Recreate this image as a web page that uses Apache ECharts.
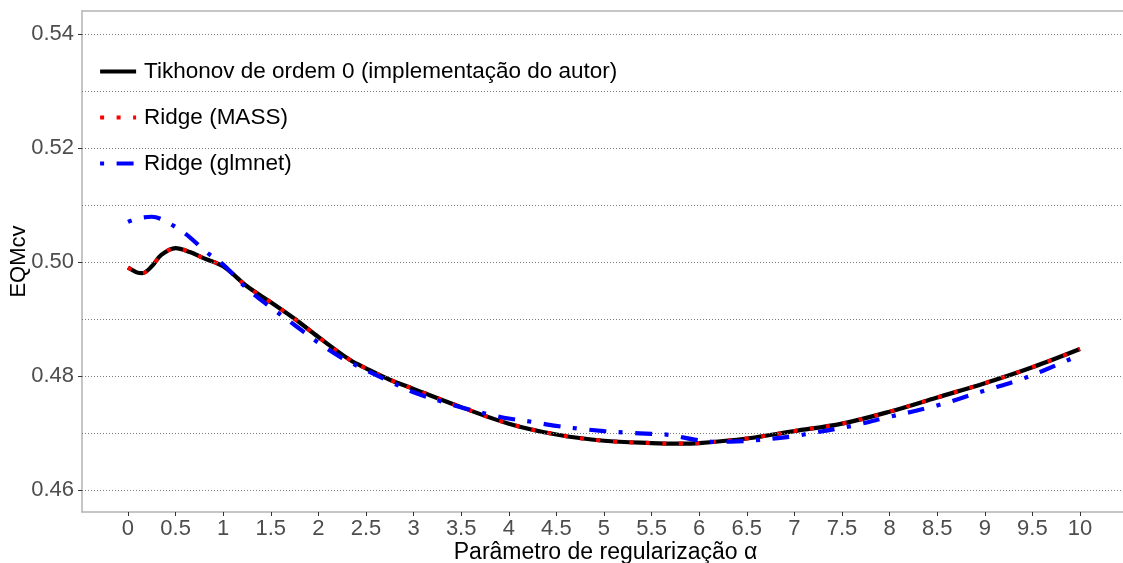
<!DOCTYPE html>
<html>
<head>
<meta charset="utf-8">
<title>EQMcv versus parâmetro de regularização</title>
<script src="https://cdn.jsdelivr.net/npm/echarts@6/dist/echarts.min.js"></script>
<style>
  html, body { margin: 0; padding: 0; background: #ffffff; overflow: hidden; }
  #chart { width: 1140px; height: 563px; }
</style>
</head>
<body>
<div id="chart"></div>
<script>
// Regularisation parameter values and cross-validated MSE per method
const alphaTik = [0, 0.1, 0.15, 0.25, 0.35, 0.5, 0.65, 0.8, 1.0, 1.25, 1.5, 1.75, 2.0, 2.33, 2.5, 2.75, 3.0, 3.5, 4.0, 4.5, 5.0, 5.5, 5.8, 6.0, 6.5, 7.0, 7.5, 8.0, 8.5, 9.0, 9.5, 10];
const eqmTikhonov = [0.4990, 0.4981, 0.4980, 0.4992, 0.5012, 0.5024, 0.5017, 0.5006, 0.4992, 0.4957, 0.4929, 0.4900, 0.4868, 0.4828, 0.4813, 0.4793, 0.4777, 0.4745, 0.4716, 0.4697, 0.4686, 0.4682, 0.4681, 0.4682, 0.4690, 0.4703, 0.4716, 0.4737, 0.4762, 0.4787, 0.4815, 0.4847];
const eqmMass = [0.4990, 0.4981, 0.4980, 0.4992, 0.5012, 0.5024, 0.5017, 0.5006, 0.4992, 0.4957, 0.4929, 0.4900, 0.4868, 0.4828, 0.4813, 0.4793, 0.4777, 0.4745, 0.4716, 0.4697, 0.4686, 0.4682, 0.4681, 0.4682, 0.4690, 0.4703, 0.4716, 0.4737, 0.4762, 0.4787, 0.4815, 0.4847];

const alphaGlm = [0, 0.1, 0.25, 0.35, 0.5, 0.65, 0.8, 1.0, 1.25, 1.5, 1.75, 2.0, 2.25, 2.5, 2.75, 3.0, 3.35, 3.6, 3.8, 4.0, 4.25, 4.5, 4.75, 5.0, 5.25, 5.5, 5.7, 5.95, 6.2, 6.4, 6.6, 7.0, 7.1, 7.6, 8.0, 8.5, 9.0, 9.4, 9.8, 10];
const eqmGlmnet = [0.5070, 0.5076, 0.5079, 0.5075, 0.5061, 0.5043, 0.5020, 0.4995, 0.4953, 0.4920, 0.4889, 0.4858, 0.4831, 0.4810, 0.4790, 0.4771, 0.4752, 0.4740, 0.4732, 0.4725, 0.4719, 0.4712, 0.4707, 0.4703, 0.4700, 0.4698, 0.4696, 0.4688, 0.4684, 0.4685, 0.4687, 0.4694, 0.4697, 0.4712, 0.4728, 0.4748, 0.4774, 0.4795, 0.4822, 0.4837];

// Axis ticks
const xTicks = [0, 0.5, 1, 1.5, 2, 2.5, 3, 3.5, 4, 4.5, 5, 5.5, 6, 6.5, 7, 7.5, 8, 8.5, 9, 9.5, 10];
const yTicks = [0.46, 0.48, 0.50, 0.52, 0.54];
const yGrid = [0.46, 0.47, 0.48, 0.49, 0.50, 0.51, 0.52, 0.53, 0.54];

const seriesNames = ['Tikhonov de ordem 0 (implementação do autor)', 'Ridge (MASS)', 'Ridge (glmnet)'];

const FONT = '"Liberation Sans", Arial, sans-serif';
const X_MIN = -0.483, X_MAX = 10.515;
const pairs = (xs, ys) => xs.map((x, i) => [x, ys[i]]);
const frameLine = { show: true, onZero: false, lineStyle: { color: '#b3b3b3', width: 1.5 } };

const chart = echarts.init(document.getElementById('chart'), null, { renderer: 'canvas' });

// the panel runs on past the right edge of the visible window (to α ≈ 10.5)
chart.setOption({
  backgroundColor: '#ffffff',
  animation: false,
  textStyle: { fontFamily: FONT },
  grid: {
    left: 82, right: 11, top: 11, bottom: 51,
    show: false,
    outerBoundsMode: 'none'
  },
  legend: {
    orient: 'vertical',
    left: 93, top: 55,
    itemWidth: 36, itemHeight: 22, itemGap: 23,
    data: seriesNames,
    itemStyle: { opacity: 0 },
    lineStyle: { width: 4.2 },
    textStyle: { fontSize: 22.5, color: '#000000', fontFamily: FONT, padding: [0, 0, 0, 3] }
  },
  xAxis: [
    {
      type: 'value',
      min: X_MIN, max: X_MAX,
      position: 'bottom',
      name: 'Parâmetro de regularização α',
      nameLocation: 'middle', nameGap: 29, nameMoveOverlap: false,
      nameTextStyle: { fontSize: 23, color: '#000000', fontFamily: FONT },
      axisLine: frameLine,
      splitLine: { show: false },
      axisTick: { show: true, length: 4, customValues: xTicks, lineStyle: { color: '#333333', width: 1 } },
      axisLabel: {
        customValues: xTicks, margin: 6, fontSize: 22, color: '#4d4d4d', fontFamily: FONT,
        formatter: v => String(v)
      }
    },
    {
      // top edge of the panel
      type: 'value',
      min: X_MIN, max: X_MAX,
      position: 'top',
      axisLine: frameLine,
      axisTick: { show: false },
      axisLabel: { show: false },
      splitLine: { show: false }
    }
  ],
  yAxis: {
    type: 'value',
    min: 0.4561, max: 0.5440,
    name: 'EQMcv',
    nameLocation: 'middle', nameGap: 52, nameMoveOverlap: false,
    nameTextStyle: { fontSize: 22, color: '#000000', fontFamily: FONT },
    axisLine: frameLine,
    splitLine: { show: false },
    axisTick: { show: true, length: 4, customValues: yTicks, lineStyle: { color: '#333333', width: 1 } },
    axisLabel: {
      customValues: yTicks, margin: 8, fontSize: 22, color: '#4d4d4d', fontFamily: FONT,
      formatter: v => v.toFixed(2)
    }
  },
  series: [
    {
      // horizontal dotted guide lines
      type: 'line', data: [], silent: true,
      markLine: {
        silent: true, symbol: ['none', 'none'], label: { show: false },
        lineStyle: { type: [1, 2], color: '#7a7a7a', width: 1 },
        data: yGrid.map(v => ({ yAxis: v }))
      }
    },
    {
      name: seriesNames[0], type: 'line', data: pairs(alphaTik, eqmTikhonov),
      smooth: 0.35, showSymbol: false, symbol: 'none', z: 3,
      lineStyle: { color: '#000000', width: 4.2, type: 'solid' },
      itemStyle: { color: '#000000' }
    },
    {
      name: seriesNames[1], type: 'line', data: pairs(alphaTik, eqmMass),
      smooth: 0.35, showSymbol: false, symbol: 'none', z: 4,
      lineStyle: { color: '#ff0000', width: 4, type: [4, 12.5], cap: 'butt' },
      itemStyle: { color: '#ff0000' }
    },
    {
      name: seriesNames[2], type: 'line', data: pairs(alphaGlm, eqmGlmnet),
      smooth: 0.35, showSymbol: false, symbol: 'none', z: 5,
      lineStyle: { color: '#0000ff', width: 4.2, type: [4, 12.5, 17, 12.5], cap: 'butt' },
      itemStyle: { color: '#0000ff' }
    }
  ]
});
</script>
</body>
</html>
